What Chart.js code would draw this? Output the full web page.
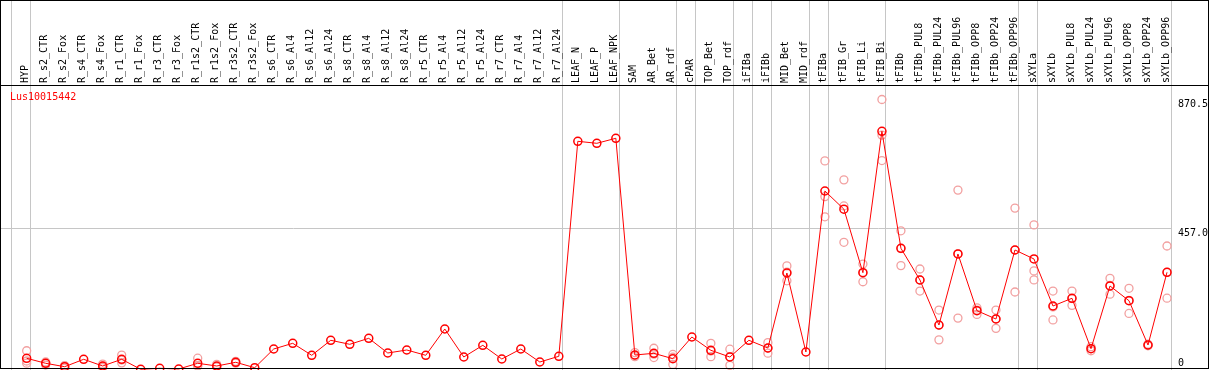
<!DOCTYPE html>
<html>
<head>
<meta charset="utf-8">
<script src="https://cdn.jsdelivr.net/npm/chart.js@4.4.0/dist/chart.umd.min.js"></script>
<style>
  body { margin: 0; background: #fff; }
  #wrap { position: relative; width: 1209px; height: 370px; }
  #frame { position: absolute; left: 0; top: 0; width: 1207px; height: 367px; border: 1px solid #000; pointer-events: none; }
  #rule { position: absolute; left: 0; top: 85px; width: 1209px; height: 1px; background: #000; }
  #gene { position: absolute; left: 10px; top: 91px; color: #f00; font: 10px "DejaVu Sans Mono", monospace; }
</style>
</head>
<body>
<div id="wrap">
  <canvas id="chart" width="1209" height="370"></canvas>
  <div id="rule"></div>
  <div id="frame"></div>
  <div id="gene">Lus10015442</div>
</div>
<script>
// sample names, left to right
const categories = [
  'HYP', 'R_s2_CTR', 'R_s2_Fox', 'R_s4_CTR', 'R_s4_Fox', 'R_r1_CTR', 'R_r1_Fox', 'R_r3_CTR', 'R_r3_Fox',
  'R_r1s2_CTR', 'R_r1s2_Fox', 'R_r3s2_CTR', 'R_r3s2_Fox', 'R_s6_CTR', 'R_s6_Al4', 'R_s6_Al12', 'R_s6_Al24',
  'R_s8_CTR', 'R_s8_Al4', 'R_s8_Al12', 'R_s8_Al24', 'R_r5_CTR', 'R_r5_Al4', 'R_r5_Al12', 'R_r5_Al24',
  'R_r7_CTR', 'R_r7_Al4', 'R_r7_Al12', 'R_r7_Al24', 'LEAF_N', 'LEAF_P', 'LEAF_NPK', 'SAM', 'AR_Bet', 'AR_rdf',
  'cPAR', 'TOP_Bet', 'TOP_rdf', 'iFIBa', 'iFIBb', 'MID_Bet', 'MID_rdf', 'tFIBa', 'tFIB_Gr', 'tFIB_Li', 'tFIB_Bi',
  'tFIBb', 'tFIBb_PUL8', 'tFIBb_PUL24', 'tFIBb_PUL96', 'tFIBb_OPP8', 'tFIBb_OPP24', 'tFIBb_OPP96',
  'sXYLa', 'sXYLb', 'sXYLb_PUL8', 'sXYLb_PUL24', 'sXYLb_PUL96', 'sXYLb_OPP8', 'sXYLb_OPP24', 'sXYLb_OPP96'
];

// mean expression (red line)
const meanValues = [
  37.7, 21.6, 10.6, 34.4, 12.9, 34.4, 2.3, 5.5, 3.2, 21.6, 12.9, 24.8, 7.4,
  67.6, 85.9, 47.3, 95.6, 82.7, 102, 54.7, 64.4, 47.3, 132, 41.8, 79.5, 35.4, 67.6, 25.7, 44.1,
  736, 729.6, 745.7,
  48.3, 53.7, 36.4, 106.2, 63.4, 41.8, 95.6, 70.8, 312.2, 57.9,
  576.1, 517.5, 313.2, 768.3, 391.7, 289.7, 144.8, 373.4, 190.9, 164.1, 386.2,
  357.3, 206, 230.8, 68.6, 270.4, 223, 80.5, 314.5
];

// replicates (pale circles), null where none shows
const rep1 = [
  62, 26, 14, null, 19, 48, null, null, null, 38, 18, 28, null,
  null, null, null, null, null, null, null, null, null, null, null, null, null, null, null, null,
  null, null, null,
  56, 70, 50, null, 86, 67, null, 88, 335, null,
  673, 612, 341, 870.5, 448, 325, 193, 579, 200, 193, 521,
  467, 254, 254, 75, 295, 263, 83, 399
];
const rep2 = [
  22, 16, 6, null, 8, 23, null, null, null, 13, 10, 22, null,
  null, null, null, null, null, null, null, null, null, null, null, null, null, null, null, null,
  null, null, null,
  43, 40, 18, null, 43, 15, null, 54, 287, null,
  558, 528, 284, 756, 336, 254, 97, 167, 179, 134, 251,
  319, 161, 208, 62, 244, 182, 78, 231
];
const rep3 = [
  29, 23, 12, null, 12, 32, null, null, null, 14, 11, 24, null,
  null, null, null, null, null, null, null, null, null, null, null, null, null, null, null, null,
  null, null, null,
  46, 51, 41, null, 61, 43, null, 70, 315, null,
  493, 411, 314, 674, 391, 290, 144, 374, 193, 165, 386,
  290, 203, 230, 69, 272, 224, 80, 314
];

const yTicks = [0, 457.0, 870.5];
// a separator line follows each of these sample indexes
const groupEnds = [-1, 0, 28, 31, 34, 35, 37, 38, 39, 41, 42, 45, 52, 53, 60];

const RED = '#ff0000';
const PALE = '#f2a0a0';
const GRID = '#c6c6c6';
const NONE = 'rgba(0,0,0,0)';
const monoFont = { family: 'DejaVu Sans Mono', size: 10 };

const toPoints = arr => arr.map((v, i) => ({ x: i, y: v })).filter(p => p.y !== null);
const sepValues = groupEnds.map(k => k + 0.21);
const isSep = ctx => ctx.tick && !Number.isInteger(ctx.tick.value);

const repSets = [rep1, rep2, rep3].map((r, n) => ({
  label: 'rep' + (n + 1),
  data: toPoints(r),
  showLine: false,
  pointRadius: 4,
  pointBorderWidth: 1.3,
  pointBorderColor: PALE,
  pointBackgroundColor: NONE,
  clip: false,
  order: 1
}));

new Chart(document.getElementById('chart'), {
  type: 'line',
  data: {
    datasets: [{
      label: 'Lus10015442',
      data: toPoints(meanValues),
      borderColor: RED,
      borderWidth: 1,
      pointRadius: 4,
      pointBorderWidth: 1.5,
      pointBorderColor: RED,
      pointBackgroundColor: NONE,
      tension: 0,
      clip: false,
      order: 0
    }].concat(repSets)
  },
  options: {
    responsive: false,
    animation: false,
    devicePixelRatio: 1,
    layout: { autoPadding: false, padding: { left: 1, top: 0, right: 0, bottom: 0 } },
    plugins: {
      legend: { display: false },
      tooltip: { enabled: false }
    },
    scales: {
      x: {
        type: 'linear',
        position: 'top',
        min: -1.35,
        max: 60.21,
        afterBuildTicks: s => {
          s.ticks = categories.map((c, i) => ({ value: i })).concat(sepValues.map(v => ({ value: v })));
        },
        afterFit: s => { s.height = 86; s.paddingLeft = 0; s.paddingRight = 0; },
        ticks: {
          autoSkip: false,
          minRotation: 90,
          maxRotation: 90,
          padding: -83,
          labelOffset: 11,
          color: '#000',
          font: monoFont,
          callback: v => Number.isInteger(v) ? categories[v] : ''
        },
        grid: {
          color: c => isSep(c) ? GRID : NONE,
          tickColor: c => isSep(c) ? GRID : NONE,
          tickLength: 86,
          lineWidth: 1
        },
        border: { display: false }
      },
      y: {
        position: 'right',
        min: 0,
        max: 914,
        afterBuildTicks: s => { s.ticks = yTicks.map(v => ({ value: v })); },
        afterFit: s => { s.width = 38; s.paddingTop = 0; s.paddingBottom = 0; },
        ticks: {
          align: 'start',
          padding: 7,
          color: '#000',
          font: monoFont,
          callback: v => v === 0 ? ['0', '', ''] : v.toFixed(1)
        },
        grid: {
          drawTicks: false,
          color: c => c.tick && c.tick.value === 457 ? GRID : NONE
        },
        border: { display: false }
      }
    }
  }
});
</script>
</body>
</html>
